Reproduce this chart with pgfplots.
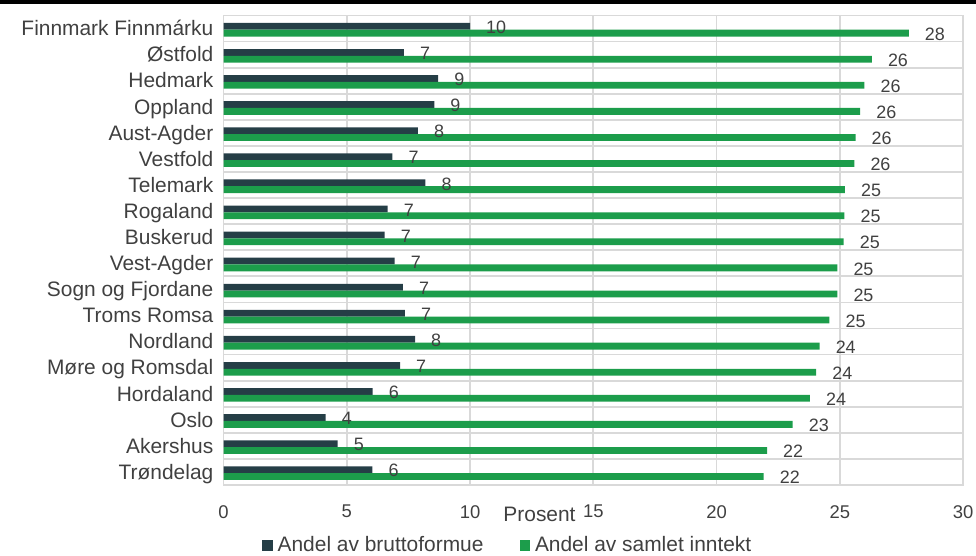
\documentclass[border=0pt]{standalone}
\usepackage{pgfplots}
\pgfplotsset{compat=1.18}
\usepackage{fontspec}
\setmainfont{Liberation Sans}
\definecolor{darkbar}{HTML}{253E46}
\definecolor{greenbar}{HTML}{1C9D4B}
\definecolor{gridgray}{HTML}{D9D9D9}
\definecolor{txt}{HTML}{404040}

\pgfplotstableread{
y dark green
0 6.04 21.91
1 4.63 22.05
2 4.14 23.09
3 6.05 23.79
4 7.16 24.04
5 7.77 24.18
6 7.36 24.58
7 7.28 24.90
8 6.94 24.90
9 6.54 25.16
10 6.66 25.19
11 8.19 25.21
12 6.85 25.59
13 7.89 25.64
14 8.55 25.83
15 8.71 26.00
16 7.32 26.30
17 10.00 27.80
}\datatable

\begin{document}
\begin{tikzpicture}[x=1bp,y=1bp]
\useasboundingbox (0,0) rectangle (976,556);
\fill[black] (0,552) rectangle (976,556);
\begin{axis}[
  at={(223.5bp,71bp)}, anchor=south west,
  scale only axis, width=739.5bp, height=469.5bp,
  xbar, bar width=6.8bp,
  xmin=0, xmax=30, ymin=-0.5, ymax=17.5,
  xtick={0,5,...,30},
  ytick={0,...,17},
  yticklabels={Trøndelag,Akershus,Oslo,Hordaland,Møre og Romsdal,Nordland,Troms Romsa,Sogn og Fjordane,Vest-Agder,Buskerud,Rogaland,Telemark,Vestfold,Aust-Agder,Oppland,Hedmark,Østfold,Finnmark Finnmárku},
  minor ytick={0.5,1.5,...,16.5},
  xmajorgrids, yminorgrids,
  grid style={gridgray, line width=1.8bp},
  minor grid style={gridgray, line width=1.8bp},
  axis line style={gridgray, line width=1.8bp},
  major tick length=0pt, minor tick length=0pt,
  tick style={draw=none},
  /pgf/number format/assume math mode=true,
  xticklabel style={font=\fontsize{18.5}{20}\selectfont, text=txt, inner sep=0pt, yshift=-20bp},
  yticklabel style={font=\fontsize{21}{24}\selectfont, text=txt, inner sep=0pt, anchor=base east, xshift=-10bp, yshift=-7.3bp},
  xlabel={Prosent},
  xlabel style={at={(axis description cs:0.4273,0)}, anchor=base, yshift=-36.7bp, inner sep=0pt, font=\fontsize{21}{24}\selectfont, text=txt},
  legend columns=2,
  legend style={draw=none, fill=none, at={(axis description cs:0.052,0)}, anchor=south west, yshift=-68.3bp, inner sep=0pt, font=\fontsize{21}{24}\selectfont, text=txt,
    /tikz/every odd column/.append style={column sep=5bp},
    /tikz/every even column/.append style={column sep=36bp},
    nodes={inner sep=0pt}},
  legend image code/.code={\fill[#1] (0bp,-6.2bp) rectangle (10.5bp,4.8bp);},
  point meta=x,
  nodes near coords={\pgfmathprintnumber[fixed,precision=0]{\pgfplotspointmeta}},
  every node near coord/.append style={anchor=west, inner sep=0pt, xshift=16bp, yshift=-1bp, font=\fontsize{18}{20}\selectfont, text=txt},
]
\addplot[fill=darkbar, draw=none, bar shift=2.2bp] table[x=dark, y=y] {\datatable};
\addlegendentry{Andel av bruttoformue}
\addplot[fill=greenbar, draw=none, bar shift=-4.6bp] table[x=green, y=y] {\datatable};
\addlegendentry{Andel av samlet inntekt}
\end{axis}
\end{tikzpicture}
\end{document}
